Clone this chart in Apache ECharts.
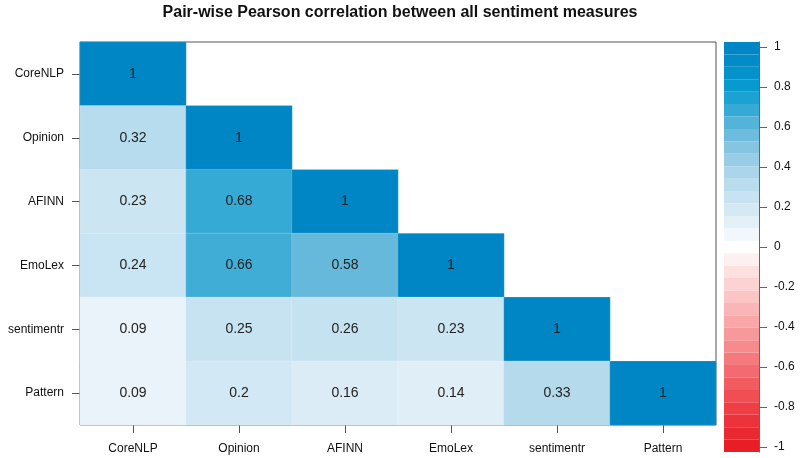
<!DOCTYPE html>
<html>
<head>
<meta charset="utf-8">
<script src="https://cdn.jsdelivr.net/npm/echarts@6/dist/echarts.min.js"></script>
<style>html,body{margin:0;padding:0;background:#fff}#c{width:800px;height:458px}</style>
</head>
<body>
<div id="c"></div>
<script>
const titleText = 'Pair-wise Pearson correlation between all sentiment measures';
const measures = ['CoreNLP', 'Opinion', 'AFINN', 'EmoLex', 'sentimentr', 'Pattern'];
// lower-triangle rows (row i has i+1 values, columns 0..i)
const rowCoreNLP = [1];
const rowOpinion = [0.32, 1];
const rowAFINN = [0.23, 0.68, 1];
const rowEmoLex = [0.24, 0.66, 0.58, 1];
const rowSentimentr = [0.09, 0.25, 0.26, 0.23, 1];
const rowPattern = [0.09, 0.2, 0.16, 0.14, 0.33, 1];
const legendTicks = [1, 0.8, 0.6, 0.4, 0.2, 0, -0.2, -0.4, -0.6, -0.8, -1];

const rows = [rowCoreNLP, rowOpinion, rowAFINN, rowEmoLex, rowSentimentr, rowPattern];
const cells = [];
rows.forEach((r, i) => r.forEach((v, j) => cells.push([j, i, v])));

// colour-legend bins (legend scale only)
const nBins = 33, lim = 1.025, bw = 2 * lim / nBins;
const bins = [];
for (let k = 0; k < nBins; k++) {
  const lo = -lim + k * bw, hi = lo + bw;
  bins.push([lo, hi, (lo + hi) / 2]);
}

const palette = ['#E81C24','#EB2D35','#EE4148','#F1585D','#F37075','#F6898C','#F8A0A3','#FAB8BA','#FCCFD0','#FEE6E7',
  '#FFFFFF','#E8F2F9','#D2E8F4','#BCDEEE','#A3D2E8','#84C5E1','#5EB6DA','#2BA7D4','#079BCF','#028EC8','#0086C4'];

const FONT = 'Liberation Sans, Arial, sans-serif';
const chart = echarts.init(document.getElementById('c'), null, {renderer: 'canvas'});
chart.setOption({
  animation: false,
  backgroundColor: '#fff',
  textStyle: {fontFamily: FONT},
  title: {text: titleText, left: 'center', top: 0,
    textStyle: {fontSize: 16, fontWeight: 'bold', color: '#111', fontFamily: FONT}},
  grid: [
    {left: 80, top: 42, width: 636, height: 383, show: true, borderColor: '#555', borderWidth: 1, backgroundColor: 'transparent'},
    {left: 724, top: 42, width: 35, height: 410}
  ],
  xAxis: [
    {type: 'category', gridIndex: 0, data: measures, splitArea: {show: false},
      axisLine: {show: false}, axisTick: {show: true, alignWithLabel: true, length: 8, lineStyle: {color: '#555'}},
      axisLabel: {fontSize: 12, color: '#111', margin: 18, fontFamily: FONT}},
    {type: 'value', gridIndex: 1, min: 0, max: 1, show: false}
  ],
  yAxis: [
    {type: 'category', gridIndex: 0, data: measures, inverse: true,
      axisLine: {show: false}, axisTick: {show: true, alignWithLabel: true, length: 8, lineStyle: {color: '#555'}},
      axisLabel: {fontSize: 12, color: '#111', margin: 16, fontFamily: FONT}},
    {type: 'value', gridIndex: 1, min: -lim, max: lim, position: 'right',
      splitLine: {show: false},
      axisLine: {show: true, onZero: false, lineStyle: {color: '#666'}},
      axisTick: {show: true, length: 8, customValues: legendTicks, lineStyle: {color: '#666'}},
      axisLabel: {fontSize: 12, color: '#111', margin: 15, customValues: legendTicks, fontFamily: FONT,
        formatter: v => String(Math.round(v * 10) / 10)}}
  ],
  visualMap: {type: 'continuous', show: false, min: -1, max: 1, dimension: 2, seriesIndex: [0, 1],
    inRange: {color: palette}},
  series: [
    {type: 'heatmap', xAxisIndex: 0, yAxisIndex: 0, data: cells,
      itemStyle: {borderColor: 'rgba(255,255,255,0.35)', borderWidth: 0.5},
      label: {show: true, fontSize: 14, color: '#222', fontFamily: FONT,
        formatter: p => String(p.value[2])},
      emphasis: {disabled: true}},
    {type: 'custom', xAxisIndex: 1, yAxisIndex: 1, data: bins, z: 1,
      renderItem: (params, api) => {
        const lo = api.value(0), hi = api.value(1);
        const p1 = api.coord([0, hi]), p2 = api.coord([1, lo]);
        return {type: 'rect', shape: {x: p1[0], y: p1[1], width: p2[0] - p1[0], height: p2[1] - p1[1]},
          style: {fill: api.visual('color')}};
      }}
  ]
});
</script>
</body>
</html>
